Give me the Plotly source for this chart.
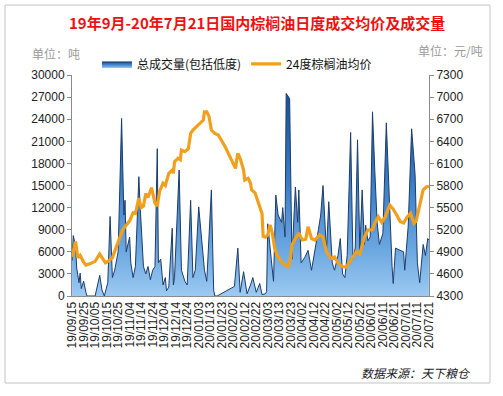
import plotly.graph_objects as go

# ---- data ----
vol_dates = [
    "2019-09-15", "2019-09-16", "2019-09-18", "2019-09-19", "2019-09-21", "2019-09-22", "2019-09-23",
    "2019-09-25", "2019-09-27", "2019-09-28", "2019-10-05", "2019-10-09", "2019-10-11", "2019-10-13",
    "2019-10-16", "2019-10-18", "2019-10-20", "2019-10-22", "2019-10-25", "2019-10-28", "2019-10-30",
    "2019-10-31", "2019-11-01", "2019-11-04", "2019-11-05", "2019-11-07", "2019-11-09", "2019-11-12",
    "2019-11-13", "2019-11-14", "2019-11-16", "2019-11-18", "2019-11-20", "2019-11-22", "2019-11-24",
    "2019-11-26", "2019-11-28", "2019-11-29", "2019-12-01", "2019-12-03", "2019-12-05", "2019-12-06",
    "2019-12-08", "2019-12-11", "2019-12-12", "2019-12-13", "2019-12-17", "2019-12-19", "2019-12-22",
    "2019-12-24", "2019-12-27", "2019-12-29", "2019-12-31", "2020-01-03", "2020-01-06", "2020-01-08",
    "2020-01-10", "2020-01-14", "2020-01-16", "2020-01-17", "2020-01-19", "2020-02-03", "2020-02-06",
    "2020-02-08", "2020-02-11", "2020-02-14", "2020-02-17", "2020-02-19", "2020-02-22", "2020-02-25",
    "2020-02-27", "2020-03-01", "2020-03-02", "2020-03-03", "2020-03-06", "2020-03-08", "2020-03-10",
    "2020-03-12", "2020-03-15", "2020-03-16", "2020-03-18", "2020-03-19", "2020-03-22", "2020-03-24",
    "2020-03-27", "2020-03-29", "2020-03-30", "2020-04-01", "2020-04-04", "2020-04-07", "2020-04-10",
    "2020-04-13", "2020-04-16", "2020-04-18", "2020-04-20", "2020-04-23", "2020-04-25", "2020-04-28",
    "2020-04-30", "2020-05-03", "2020-05-05", "2020-05-07", "2020-05-09", "2020-05-11", "2020-05-14",
    "2020-05-16", "2020-05-18", "2020-05-20", "2020-05-22", "2020-05-24", "2020-05-26", "2020-05-27",
    "2020-05-29", "2020-05-31", "2020-06-02", "2020-06-04", "2020-06-06", "2020-06-08", "2020-06-11",
    "2020-06-14", "2020-06-16", "2020-06-19", "2020-06-20", "2020-06-22", "2020-06-26", "2020-06-29",
    "2020-06-30", "2020-07-03", "2020-07-06", "2020-07-09", "2020-07-11", "2020-07-13", "2020-07-16",
    "2020-07-18", "2020-07-20", "2020-07-21",
]
vol_values = [
    4800, 8200, 6800, 3800, 1800, 3100, 1000,
    2000, 500, 0, 0, 2800, 800, 0,
    1800, 10800, 2500, 3500, 6000, 24100, 11000,
    13000, 6000, 8000, 4500, 2500, 4000, 16200,
    12500, 10000, 4000, 3000, 4000, 2200, 3500,
    4000, 20000, 4500, 5000, 1500, 2500, 700,
    1200, 9200, 1500, 2500, 17100, 3500, 2000,
    1500, 13000, 2500, 3500, 12100, 7200, 3500,
    2000, 14400, 800, 0, 0, 1300, 6500,
    500, 3300, 300, 1500, 2500, 500, 1700,
    200, 300, 600, 9800, 5000, 2000, 13700,
    11000, 10000, 12000, 8000, 27500, 26800, 5000,
    14800, 10000, 14400, 4500, 5200, 6200, 3500,
    6000, 9000, 11000, 15000, 6000, 12800, 4500,
    3500, 5500, 7800, 3000, 2500, 5500, 22200,
    5000, 6500, 21200, 6000, 14400, 7000, 9600,
    7500, 8000, 25000, 17000, 10000, 7000, 8500,
    23500, 15000, 4000, 1700, 6500, 6200, 6000,
    3500, 9500, 22700, 16500, 4500, 1800, 7000,
    5500, 7800, 7600,
]

price_dates = [
    "2019-09-15", "2019-09-18", "2019-09-20", "2019-09-22", "2019-09-25", "2019-09-27", "2019-10-01",
    "2019-10-05", "2019-10-09", "2019-10-11", "2019-10-14", "2019-10-16", "2019-10-20", "2019-10-23",
    "2019-10-27", "2019-10-29", "2019-11-02", "2019-11-04", "2019-11-07", "2019-11-09", "2019-11-12",
    "2019-11-14", "2019-11-16", "2019-11-18", "2019-11-20", "2019-11-23", "2019-11-24", "2019-11-26",
    "2019-11-28", "2019-11-30", "2019-12-03", "2019-12-05", "2019-12-08", "2019-12-11", "2019-12-12",
    "2019-12-13", "2019-12-16", "2019-12-18", "2019-12-19", "2019-12-22", "2019-12-25", "2019-12-27",
    "2019-12-29", "2020-01-01", "2020-01-06", "2020-01-07", "2020-01-08", "2020-01-10", "2020-01-12",
    "2020-01-14", "2020-01-17", "2020-01-20", "2020-01-26", "2020-02-01", "2020-02-04", "2020-02-05",
    "2020-02-06", "2020-02-08", "2020-02-11", "2020-02-12", "2020-02-15", "2020-02-17", "2020-02-18",
    "2020-02-21", "2020-02-24", "2020-02-25", "2020-02-27", "2020-02-28", "2020-03-01", "2020-03-03",
    "2020-03-05", "2020-03-07", "2020-03-08", "2020-03-09", "2020-03-11", "2020-03-14", "2020-03-15",
    "2020-03-18", "2020-03-21", "2020-03-23", "2020-03-24", "2020-03-27", "2020-03-30", "2020-04-02",
    "2020-04-05", "2020-04-07", "2020-04-10", "2020-04-13", "2020-04-16", "2020-04-17", "2020-04-20",
    "2020-04-23", "2020-04-26", "2020-04-27", "2020-04-30", "2020-05-03", "2020-05-05", "2020-05-07",
    "2020-05-10", "2020-05-12", "2020-05-15", "2020-05-19", "2020-05-22", "2020-05-26", "2020-05-29",
    "2020-06-02", "2020-06-04", "2020-06-07", "2020-06-10", "2020-06-13", "2020-06-17", "2020-06-20",
    "2020-06-23", "2020-06-26", "2020-06-29", "2020-07-02", "2020-07-05", "2020-07-08", "2020-07-10",
    "2020-07-13", "2020-07-16", "2020-07-19", "2020-07-21",
]
price_values = [
    4830, 5040, 4820, 4850, 4760, 4720, 4740,
    4770, 4870, 4820, 4750, 4770, 4820, 4950,
    5100, 5200, 5280, 5320, 5430, 5420, 5630,
    5500, 5520, 5690, 5640, 5770, 5700, 5560,
    5520, 5720, 5830, 5800, 5965, 6010, 5965,
    6122, 6170, 6150, 6281, 6260, 6300, 6508,
    6553, 6597, 6665, 6688, 6800, 6800, 6735,
    6553, 6508, 6485, 6326, 6145, 6032, 6145,
    6236, 6168, 6010, 5874, 5897, 5830, 5740,
    5700, 5560, 5500, 5420, 5110, 5100, 5130,
    5265, 5150, 5030, 4950, 4860, 4780, 4760,
    4720, 4700, 4830, 4990, 5080, 5155, 5060,
    5070, 5240, 5080, 5060, 5110, 5130, 5100,
    4900, 4830, 4810, 4830, 4750, 4720, 4700,
    4690, 4740, 4800, 4900, 4870, 5100, 5195,
    5200, 5290, 5376, 5300, 5370, 5535, 5480,
    5400, 5310, 5290, 5370, 5422, 5287, 5320,
    5557, 5740, 5783, 5790,
]

series_names = ["总成交量(包括低度)", "24度棕榈油均价"]
title_text = "19年9月-20年7月21日国内棕榈油日度成交均价及成交量"
left_unit = "单位：吨"
right_unit = "单位：元/吨"
source_text = "数据来源：天下粮仓"

CJK = "Noto Sans CJK SC"
NUM = "Liberation Sans, Arial, " + CJK

fig = go.Figure()
fig.add_trace(go.Scatter(
    x=vol_dates, y=vol_values, name=series_names[0],
    mode="lines", fill="tozeroy",
    line=dict(color="#1c3d6b", width=1),
    fillgradient=dict(type="vertical", start=0, stop=26000,
                      colorscale=[[0, "#9ccaf2"], [0.25, "#6aa6e0"], [0.6, "#3a7cc4"], [1, "#1b559c"]]),
    yaxis="y",
))
fig.add_trace(go.Scatter(
    x=price_dates, y=price_values, name=series_names[1],
    mode="lines", line=dict(color="#f0a01c", width=3.2),
    yaxis="y2",
))

axis_common = dict(showgrid=False, zeroline=False, showline=True, linecolor="#8a8a8a",
                   linewidth=1, ticks="outside", ticklen=4, tickcolor="#8a8a8a",
                   tickfont=dict(family=NUM, size=12, color="#222"))

fig.update_layout(
    width=503, height=396,
    margin=dict(l=72, r=74, t=75, b=100),
    paper_bgcolor="white", plot_bgcolor="white",
    showlegend=True,
    legend=dict(orientation="h", x=0.07, y=1.05, xanchor="left", yanchor="middle",
                font=dict(family=CJK, size=12, color="#111"),
                bgcolor="rgba(0,0,0,0)", itemwidth=30, tracegroupgap=0),
    xaxis=dict(type="date", range=["2019-09-14 22:00", "2020-07-21 02:00"],
               tick0="2019-09-15", dtick=10 * 86400000, tickformat="%y/%m/%d",
               tickangle=-90, showgrid=False, zeroline=False, showline=True,
               linecolor="#8a8a8a", ticks="", tickfont=dict(family=NUM, size=12, color="#222")),
    yaxis=dict(range=[0, 30000], tick0=0, dtick=3000, tickformat="d", **axis_common),
    yaxis2=dict(range=[4300, 7300], tick0=4300, dtick=300, tickformat="d",
                overlaying="y", side="right", **axis_common),
    shapes=[dict(type="rect", xref="paper", yref="paper",
                 x0=-0.1877, x1=1.1709, y0=-0.3937, y1=1.3167,
                 line=dict(color="#c4c4c4", width=1), layer="below")],
    annotations=[
        dict(text=f"<b>{title_text}</b>", xref="paper", yref="paper", x=0.518, y=1.2398,
             xanchor="center", yanchor="middle",
             showarrow=False, font=dict(family=CJK, size=15, color="#ee1111")),
        dict(text=left_unit, xref="paper", yref="paper", x=-0.0448, y=1.0995,
             xanchor="center", yanchor="middle",
             showarrow=False, font=dict(family=CJK, size=12, color="#9a9a9a")),
        dict(text=right_unit, xref="paper", yref="paper", x=1.0616, y=1.113,
             xanchor="center", yanchor="middle",
             showarrow=False, font=dict(family=CJK, size=12, color="#9a9a9a")),
        dict(text=f"<i>{source_text}</i>", xref="paper", yref="paper", x=0.9636, y=-0.348,
             xanchor="center", yanchor="middle",
             showarrow=False, font=dict(family=CJK, size=12, color="#222")),
    ],
)

fig.write_html("out.html", config={"displayModeBar": False},
               post_script="document.body.style.margin='0';")
